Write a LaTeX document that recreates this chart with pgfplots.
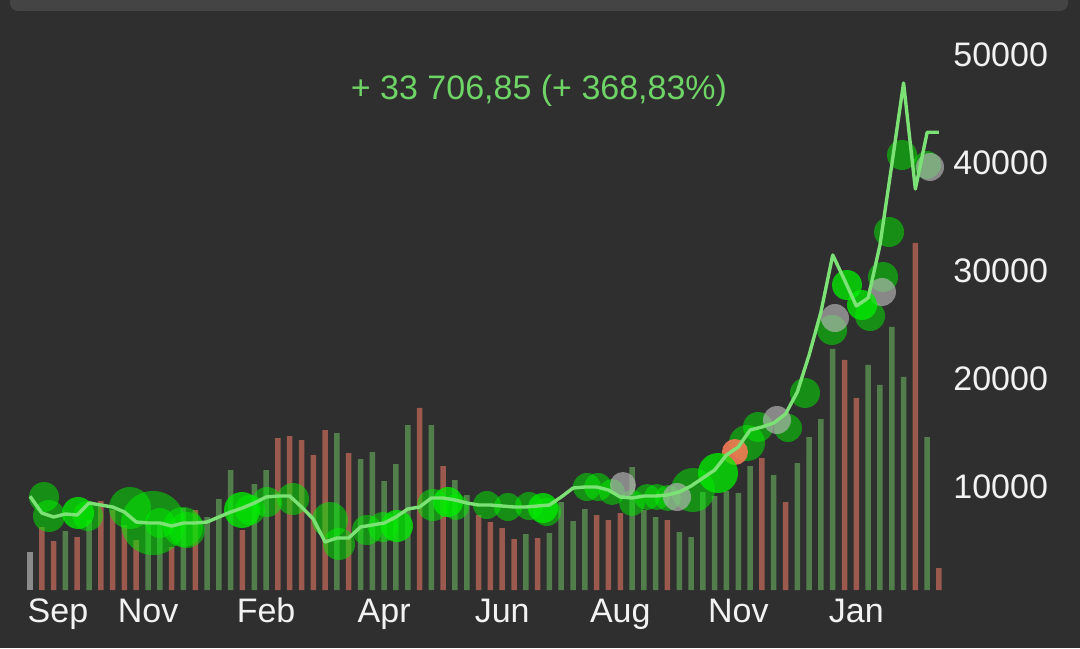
\documentclass[border=0pt]{standalone}
\usepackage{fontspec}
\setmainfont{Liberation Sans}
\usepackage{pgfplots}
\usepackage{pgfplotstable}
\pgfplotsset{compat=1.18}
\definecolor{bg}{HTML}{2F2F2F}
\definecolor{topbar}{HTML}{444444}
\definecolor{barred}{HTML}{9C5A4E}
\definecolor{bargreen}{HTML}{527E4C}
\definecolor{bargrey}{HTML}{8C8C8C}
\definecolor{linegreen}{HTML}{7DE275}
\definecolor{titlegreen}{HTML}{6FD466}
\definecolor{bub}{HTML}{00F000}
\definecolor{bubgrey}{HTML}{B8B8B8}
\definecolor{buborange}{HTML}{F47A55}
\definecolor{txt}{HTML}{F2F2F2}

% price (weekly close), index = week
\pgfplotstableread{
i p
0 9139
1 7593
2 7222
3 7500
4 7407
5 8518
6 8333
7 8148
8 7685
9 6759
10 6667
11 6667
12 6389
13 6667
14 6667
15 6759
16 7222
17 7685
18 8055
19 8518
20 9074
21 9166
22 9166
23 8148
24 7037
25 4907
26 5278
27 5278
28 6296
29 6481
30 6667
31 7222
32 7963
33 8148
34 8981
35 8981
36 8796
37 8518
38 8333
39 8333
40 8240
41 8148
42 8148
43 8240
44 8333
45 9074
46 9907
47 10000
48 10000
49 9722
50 9074
51 8981
52 9166
53 9166
54 9259
55 9537
56 10092
57 10833
58 11574
59 12963
60 13704
61 15278
62 15556
63 15926
64 16759
65 18796
66 22222
67 26204
68 31481
69 29167
70 26759
71 27500
72 32407
73 39815
74 47407
75 37593
76 42846
77 42846
}\price

% bubbles: index, price, radius (pt)
\pgfplotstableread{
i p s
1.19 9074 7.5
1.61 7315 8
4.91 7315 7.5
8.47 8056 10.5
10.42 6667 16
11.01 6667 7.5
12.96 6296 10
13.30 6019 9
18.64 7870 7.5
20.08 8611 7.5
22.28 8889 8
25.41 6944 9
26.18 4722 8
28.55 6019 7.5
29.90 6296 7.5
34.14 8333 8
36.09 8148 6.5
38.71 8333 7
40.49 8148 7
42.27 8241 7
43.79 7685 7
47.18 10000 7
48.12 10000 7
49.30 9537 6.5
51.00 8519 6.5
52.27 9074 6.5
53.11 9074 6.5
54.04 8981 6.5
56.16 9722 11
60.74 14074 9
61.67 15556 7.5
64.21 15463 7
65.65 18704 7.5
67.94 24537 7.5
71.16 25833 7.5
72.26 29444 7.5
72.77 33611 7.5
73.87 40741 7.5
75.99 39815 7
}\bubgreen

\pgfplotstableread{
i p s
4.07 7593 8
17.96 7870 9
31.09 6389 8
35.41 8611 7.5
43.46 8056 7.5
58.28 11296 10
69.21 28704 7.5
70.48 26852 7.5
}\bubbright

\pgfplotstableread{
i p s
50.23 10185 6.5
54.81 9074 7
63.28 16204 7
68.19 25648 7
72.17 28056 7
76.24 39630 7
}\bubgreyt

\pgfplotstableread{
i p s
59.72 13241 6.5
}\buborangt

\pgfplotsset{
  base/.style={scale only axis, width=462.65pt, height=275pt,
    xmin=-0.703, xmax=77.68, at={(10.85pt,29pt)}, anchor=south west},
  bubble/.style={scatter, only marks, mark=*,
    scatter/use mapped color={draw=#1, draw opacity=0, fill=#1},
    visualization depends on={\thisrow{s}\as\ms},
    scatter/@pre marker code/.append style={/tikz/mark size=\ms pt}},
}

\begin{document}
\begin{tikzpicture}
\fill[bg] (0,0) rectangle (540pt,324pt);
\fill[topbar, rounded corners=4pt] (5pt,332pt) rectangle (534pt,318.5pt);

% volume bars
\begin{axis}[base, hide axis, ymin=0, ymax=55000]
\addplot[ybar, bar width=2.75pt, bar shift=0pt, fill=bargrey, draw=none]
  coordinates {(0,3800)};
\addplot[ybar, bar width=2.75pt, bar shift=0pt, fill=barred, draw=none]
  coordinates {(1,6300) (2,4900) (4,5300) (6,8900) (7,8000) (8,6500) (9,5000)
  (12,4300) (14,8000) (18,6000) (21,15200) (22,15400) (23,15000) (24,13500)
  (25,16000) (27,13700) (33,18200) (35,12400) (38,7500) (39,6800) (40,6200)
  (41,5100) (43,5200) (48,7500) (49,7000) (50,7700) (54,7000) (62,13200)
  (64,8800) (69,23000) (70,19200) (75,34700) (77,2200)};
\addplot[ybar, bar width=2.75pt, bar shift=0pt, fill=bargreen, draw=none]
  coordinates {(3,5900) (5,7000) (10,6500) (11,6500) (13,8200) (15,7300)
  (16,9100) (17,12000) (19,10600) (20,12000) (26,15700) (28,13100) (29,13800)
  (30,10900) (31,12600) (32,16500) (34,16500) (36,11000) (37,9500) (42,5600)
  (44,5700) (45,8800) (46,6900) (47,8100) (51,12300) (52,8000) (53,7300)
  (55,5800) (56,5300) (57,9800) (58,9400) (59,9900) (60,9700) (61,12400)
  (63,11500) (65,12700) (66,15300) (67,17100) (68,24100) (71,22500)
  (72,20500) (73,26300) (74,21300) (76,15300)};
\end{axis}

% price, bubbles
\begin{axis}[base, ymin=463, ymax=51389, clip marker paths=true,
  axis line style={draw=none}, major tick length=0pt, tick style={draw=none},
  scaled y ticks=false,
  ytick={10000,20000,30000,40000,50000},
  yticklabels={10000,20000,30000,40000,50000},
  yticklabel pos=right,
  xtick={2.37,10,20,30,40,50,60,70},
  xticklabels={Sep,Nov,Feb,Apr,Jun,Aug,Nov,Jan},
  ticklabel style={text=txt, font=\fontsize{17}{19}\selectfont, inner sep=0pt},
  yticklabel style={anchor=west, xshift=3pt},
  xticklabel style={anchor=base, yshift=-16pt},
]
\addplot[bubble=bub, fill opacity=0.5] table[x=i, y=p] {\bubgreen};
\addplot[bubble=bubgrey, fill opacity=0.65] table[x=i, y=p] {\bubgreyt};
\addplot[bubble=buborange, fill opacity=0.9] table[x=i, y=p] {\buborangt};
\addplot[bubble=bub, fill opacity=0.75] table[x=i, y=p] {\bubbright};
\addplot[linegreen, line width=1.7pt, line join=round, mark=none] table[x=i, y=p] {\price};
\end{axis}

\node[text=titlegreen, font=\fontsize{17}{19}\selectfont] at (269.5pt,278.5pt)
  {+ 33 706,85 (+ 368,83\%)};
\pgfresetboundingbox
\useasboundingbox (0,0) rectangle (540pt,324pt);
\end{tikzpicture}
\end{document}
